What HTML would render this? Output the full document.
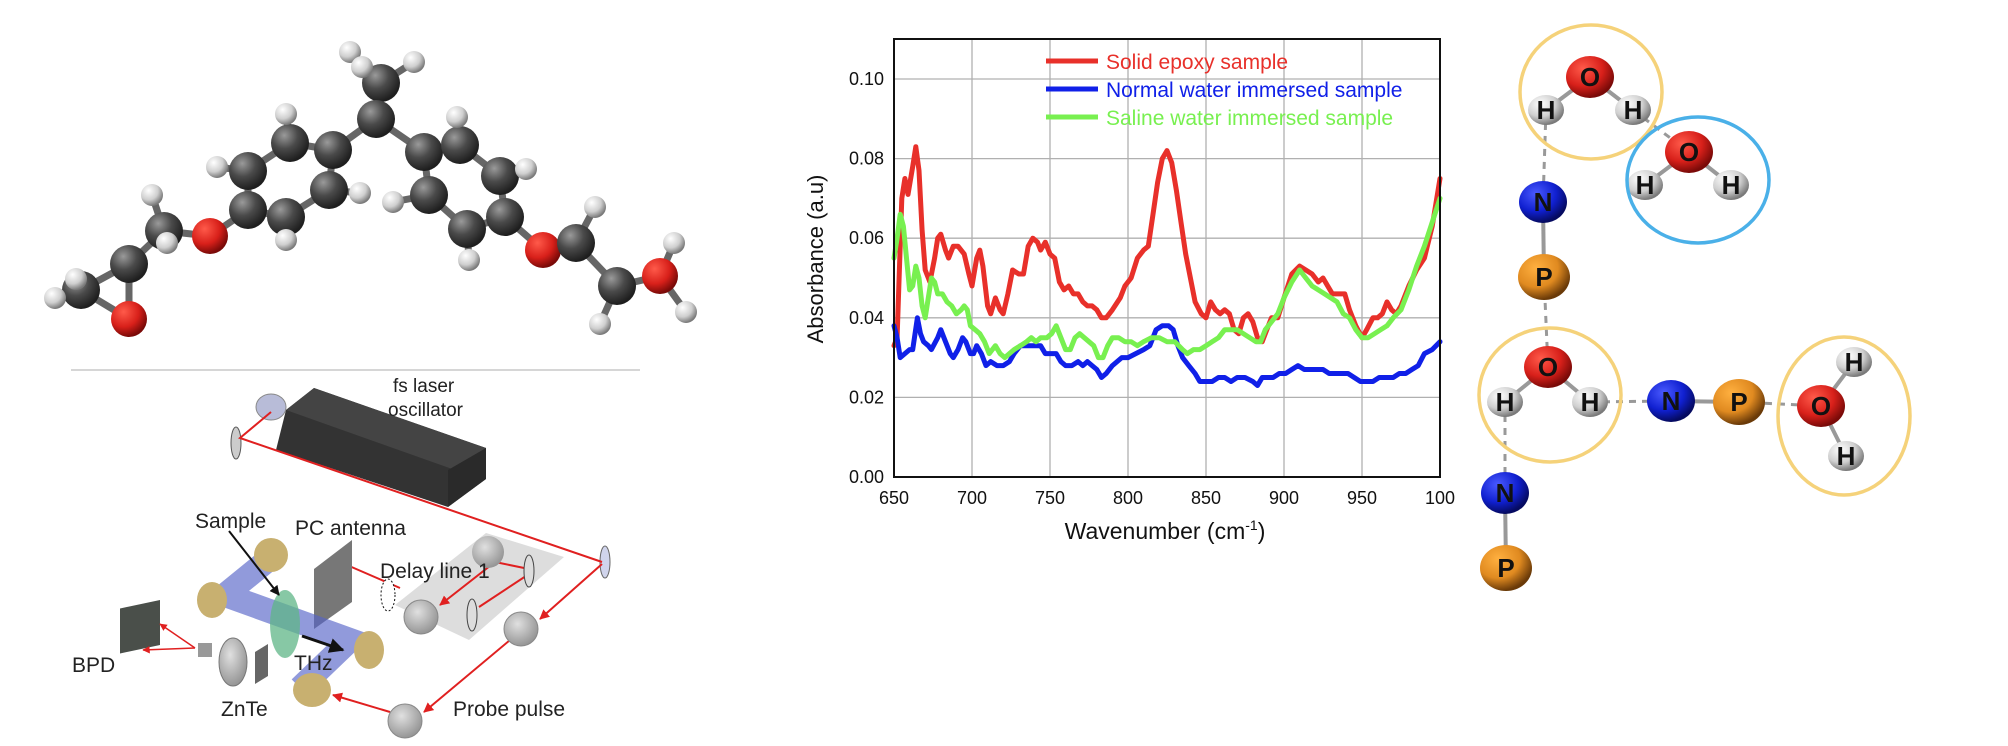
<!DOCTYPE html>
<html><head><meta charset="utf-8"><style>
html,body{margin:0;padding:0;background:#fff;}
svg{display:block;font-family:"Liberation Sans",Arial,sans-serif;}
</style></head><body>
<svg id="root" width="2008" height="746" viewBox="0 0 2008 746" xmlns="http://www.w3.org/2000/svg">
<defs>
<radialGradient id="gC" cx="35%" cy="30%" r="70%"><stop offset="0" stop-color="#9a9a9a"/><stop offset="0.5" stop-color="#4a4a4a"/><stop offset="1" stop-color="#1e1e1e"/></radialGradient>
<radialGradient id="gH" cx="35%" cy="30%" r="70%"><stop offset="0" stop-color="#ffffff"/><stop offset="0.6" stop-color="#cfcfcf"/><stop offset="1" stop-color="#7a7a7a"/></radialGradient>
<radialGradient id="gO" cx="35%" cy="30%" r="70%"><stop offset="0" stop-color="#ff5a4a"/><stop offset="0.6" stop-color="#d8201a"/><stop offset="1" stop-color="#7a0a08"/></radialGradient>
<radialGradient id="gN" cx="35%" cy="30%" r="70%"><stop offset="0" stop-color="#4a5aff"/><stop offset="0.6" stop-color="#1020d0"/><stop offset="1" stop-color="#050a60"/></radialGradient>
<radialGradient id="gP" cx="35%" cy="30%" r="70%"><stop offset="0" stop-color="#ffb040"/><stop offset="0.6" stop-color="#e08a20"/><stop offset="1" stop-color="#6a3a08"/></radialGradient>
<radialGradient id="gM" cx="40%" cy="35%" r="70%"><stop offset="0" stop-color="#e0e0e0"/><stop offset="1" stop-color="#909090"/></radialGradient>
<marker id="arr" viewBox="0 0 10 10" refX="9" refY="5" markerWidth="5" markerHeight="5" orient="auto"><path d="M0,0L10,5L0,10z" fill="#e02020"/></marker>
<marker id="arrk" viewBox="0 0 10 10" refX="9" refY="5" markerWidth="5" markerHeight="5" orient="auto"><path d="M0,0L10,5L0,10z" fill="#111"/></marker>
</defs>

<g id="mol"></g>
<line x1="71" y1="370" x2="640" y2="370" stroke="#c8c8c8" stroke-width="1.5"/>

<g>
  <polygon points="395,605 486,533 564,557 469,640" fill="#d4d4d4" opacity="0.8"/>
  <polygon points="286,410 314,388 486,448 486,479 448,507 276,450" fill="#333"/>
  <polygon points="286,410 314,388 486,448 455,470" fill="#444"/>
  <polygon points="448,470 486,448 486,479 448,507" fill="#2a2a2a"/>
  <ellipse cx="271" cy="407" rx="15" ry="13" fill="#b8bcd8" stroke="#888"/>
  <ellipse cx="236" cy="443" rx="5" ry="16" fill="#ccc" stroke="#555"/>
  <ellipse cx="605" cy="562" rx="5" ry="16" fill="#d0d4ec" stroke="#666"/>
  <polyline points="271,412 240,438 602,562" fill="none" stroke="#e02020" stroke-width="2"/>
  <line x1="602" y1="564" x2="540" y2="619" stroke="#e02020" stroke-width="2" marker-end="url(#arr)"/>
  <line x1="522" y1="630" x2="424" y2="712" stroke="#e02020" stroke-width="2" marker-end="url(#arr)"/>
  <line x1="390" y1="712" x2="333" y2="695" stroke="#e02020" stroke-width="2" marker-end="url(#arr)"/>
  <polyline points="529,569 495,562 440,605" fill="none" stroke="#e02020" stroke-width="2" marker-end="url(#arr)"/>
  <line x1="479" y1="607" x2="529" y2="574" stroke="#e02020" stroke-width="2"/>
  <line x1="400" y1="588" x2="340" y2="562" stroke="#e02020" stroke-width="2" marker-end="url(#arr)"/>
  <circle cx="488" cy="552" r="16" fill="url(#gM)"/>
  <circle cx="421" cy="617" r="17" fill="url(#gM)" stroke="#888"/>
  <circle cx="521" cy="629" r="17" fill="url(#gM)" stroke="#888"/>
  <circle cx="405" cy="721" r="17" fill="url(#gM)" stroke="#888"/>
  <ellipse cx="529" cy="571" rx="5" ry="16" fill="#ddd" stroke="#444"/>
  <ellipse cx="472" cy="615" rx="5" ry="16" fill="#ddd" stroke="#444"/>
  <ellipse cx="388" cy="595" rx="7" ry="16" fill="#fff" stroke="#111" stroke-dasharray="2,2"/>
  <polygon points="314,569 352,540 352,602 314,629" fill="#777"/>
  <polyline points="268,560 225,595 350,640 300,688" fill="none" stroke="#5664c8" stroke-width="24" opacity="0.65"/>
  <ellipse cx="285" cy="624" rx="15" ry="34" fill="#5fb587" opacity="0.75"/>
  <ellipse cx="271" cy="555" rx="17" ry="17" fill="#c8b070"/>
  <ellipse cx="212" cy="600" rx="15" ry="18" fill="#c8b070"/>
  <ellipse cx="369" cy="650" rx="15" ry="19" fill="#c8b070"/>
  <ellipse cx="312" cy="690" rx="19" ry="17" fill="#c8b070"/>
  <line x1="229" y1="531" x2="279" y2="595" stroke="#111" stroke-width="2" marker-end="url(#arrk)"/>
  <line x1="302" y1="636" x2="343" y2="650" stroke="#111" stroke-width="3" marker-end="url(#arrk)"/>
  <rect x="120" y="604" width="40" height="45" fill="#4a4f4a" transform="skewY(-12) translate(0,30)"/>
  <polyline points="195,648 143,650" fill="none" stroke="#e02020" stroke-width="1.5" marker-end="url(#arr)"/>
  <line x1="195" y1="648" x2="160" y2="624" stroke="#e02020" stroke-width="1.5" marker-end="url(#arr)"/>
  <rect x="198" y="643" width="14" height="14" fill="#999"/>
  <ellipse cx="233" cy="662" rx="14" ry="24" fill="url(#gM)" stroke="#777"/>
  <polygon points="255,652 268,644 268,676 255,684" fill="#666"/>
  <g font-size="20" fill="#222">
    <text x="393" y="392" font-size="19">fs laser</text>
    <text x="388" y="416" font-size="19">oscillator</text>
    <text x="195" y="528" font-size="21">Sample</text>
    <text x="295" y="535" font-size="21">PC antenna</text>
    <text x="380" y="578" font-size="21">Delay line 1</text>
    <text x="72" y="672" font-size="21">BPD</text>
    <text x="221" y="716" font-size="21">ZnTe</text>
    <text x="294" y="670" font-size="21">THz</text>
    <text x="453" y="716" font-size="21">Probe pulse</text>
  </g>
</g>

<g id="chart">
  <g id="grid"></g>
  <g id="series"></g>
  <rect x="894" y="39" width="546" height="438" fill="none" stroke="#111" stroke-width="2"/>
  <g id="ticks" font-size="18" fill="#111"></g>
  <text x="0" y="0" font-size="22" fill="#111" text-anchor="middle" transform="translate(823,259) rotate(-90)">Absorbance (a.u)</text>
  <text x="1165" y="539" font-size="23" fill="#111" text-anchor="middle">Wavenumber (cm<tspan font-size="14" dy="-9">-1</tspan><tspan dy="9">)</tspan></text>
  <g>
    <g>
      <line x1="1046" y1="61" x2="1098" y2="61" stroke="#e8302a" stroke-width="5"/>
      <text x="1106" y="69" font-size="21" fill="#e8302a">Solid epoxy sample</text>
    </g>
    <g>
      <line x1="1046" y1="89" x2="1098" y2="89" stroke="#1020e8" stroke-width="5"/>
      <text x="1106" y="97" font-size="21" fill="#1020e8">Normal water immersed sample</text>
    </g>
    <g>
      <line x1="1046" y1="117" x2="1098" y2="117" stroke="#78f050" stroke-width="5"/>
      <text x="1106" y="125" font-size="21" fill="#78f050">Saline water immersed sample</text>
    </g>
  </g>
</g>

<g id="rightmol"></g>
</svg>

<script>
const xTicks = [650,700,750,800,850,900,950,1000];
const xTickLabels = ["650","700","750","800","850","900","950","100"];
const yTicks = [0,0.02,0.04,0.06,0.08,0.10];
const yTickLabels = ["0.00","0.02","0.04","0.06","0.08","0.10"];
const redX = [650,652,655,657,659,662,664,666,668,670,673,676,678,680,683,685,688,691,695,698,700,703,705,707,710,712,715,718,720,723,726,730,733,736,739,742,744,747,750,753,756,759,762,765,768,771,774,777,780,783,786,790,795,798,802,806,810,813,816,819,822,825,828,831,834,837,840,843,847,850,853,856,859,862,865,868,871,874,877,880,883,886,889,892,896,900,905,910,914,918,922,925,928,931,935,939,942,946,950,953,957,960,963,966,969,972,975,980,985,990,995,1000];
const redY = [0.033,0.035,0.07,0.075,0.071,0.078,0.083,0.077,0.062,0.052,0.049,0.055,0.06,0.061,0.057,0.055,0.058,0.058,0.056,0.051,0.048,0.055,0.057,0.053,0.043,0.041,0.045,0.042,0.041,0.046,0.052,0.051,0.051,0.058,0.060,0.059,0.057,0.059,0.056,0.055,0.049,0.047,0.048,0.046,0.046,0.044,0.043,0.043,0.042,0.040,0.040,0.042,0.045,0.048,0.050,0.055,0.057,0.058,0.066,0.074,0.080,0.082,0.079,0.072,0.064,0.056,0.050,0.044,0.041,0.040,0.044,0.042,0.041,0.042,0.041,0.037,0.036,0.040,0.041,0.039,0.035,0.034,0.037,0.040,0.040,0.045,0.051,0.053,0.052,0.051,0.049,0.050,0.048,0.046,0.046,0.046,0.042,0.038,0.035,0.037,0.040,0.040,0.041,0.044,0.042,0.041,0.043,0.048,0.052,0.055,0.063,0.075];
const blueX = [650,652,654,657,660,662,665,667,669,672,674,678,680,683,686,688,691,694,696,699,701,703,706,709,712,716,720,724,727,731,736,740,744,747,751,754,757,760,764,768,771,774,777,780,783,786,790,793,796,800,805,810,814,818,822,826,829,832,835,839,843,846,850,854,858,862,866,870,875,880,883,886,889,893,897,901,905,909,913,917,921,925,929,933,937,941,945,949,953,957,961,965,970,974,978,982,986,990,995,1000];
const blueY = [0.038,0.035,0.030,0.031,0.032,0.032,0.040,0.036,0.034,0.033,0.032,0.035,0.037,0.034,0.031,0.030,0.032,0.035,0.034,0.031,0.031,0.033,0.031,0.028,0.029,0.028,0.028,0.029,0.031,0.033,0.033,0.033,0.033,0.031,0.031,0.031,0.029,0.028,0.028,0.029,0.028,0.029,0.028,0.027,0.025,0.026,0.028,0.029,0.030,0.030,0.031,0.032,0.033,0.037,0.038,0.038,0.037,0.033,0.030,0.028,0.026,0.024,0.024,0.024,0.025,0.025,0.024,0.025,0.025,0.024,0.023,0.025,0.025,0.025,0.026,0.026,0.027,0.028,0.027,0.027,0.027,0.027,0.026,0.026,0.026,0.026,0.025,0.024,0.024,0.024,0.025,0.025,0.025,0.026,0.026,0.027,0.028,0.031,0.032,0.034];
const greenX = [650,652,654,656,658,660,662,664,666,668,670,672,674,676,678,681,684,687,690,693,695,697,699,702,705,708,711,713,715,718,721,724,727,731,735,738,741,744,748,751,754,757,760,763,766,769,772,775,778,781,784,787,790,794,798,802,806,810,815,820,825,830,835,838,842,846,850,854,858,862,866,870,874,878,882,885,888,892,896,900,905,910,914,918,922,926,930,934,938,942,946,950,954,958,962,966,970,975,980,985,990,995,1000];
const greenY = [0.055,0.060,0.066,0.063,0.055,0.047,0.048,0.053,0.050,0.043,0.040,0.045,0.050,0.049,0.046,0.046,0.044,0.043,0.041,0.042,0.043,0.042,0.038,0.037,0.036,0.034,0.031,0.032,0.033,0.031,0.030,0.031,0.032,0.033,0.034,0.035,0.034,0.035,0.035,0.036,0.038,0.035,0.032,0.032,0.035,0.036,0.035,0.034,0.033,0.030,0.030,0.033,0.035,0.035,0.034,0.034,0.033,0.034,0.035,0.035,0.034,0.034,0.032,0.031,0.032,0.032,0.033,0.034,0.035,0.037,0.037,0.037,0.036,0.035,0.034,0.034,0.037,0.039,0.041,0.045,0.049,0.052,0.050,0.048,0.047,0.046,0.045,0.044,0.041,0.040,0.037,0.035,0.035,0.036,0.037,0.038,0.040,0.042,0.047,0.053,0.058,0.064,0.070];

const NS = "http://www.w3.org/2000/svg";
const X0=894, X1=1440, Y0=477, Y1=79;
function sx(v){return X0+(v-650)/(1000-650)*(X1-X0);}
function sy(v){return Y0-(v/0.10)*(Y0-Y1);}
function mk(tag, attrs, parent){const e=document.createElementNS(NS,tag);for(const k in attrs)e.setAttribute(k,attrs[k]);parent.appendChild(e);return e;}

const grid=document.getElementById('grid'), ticks=document.getElementById('ticks'), series=document.getElementById('series');
xTicks.forEach((t,i)=>{
  if(i>0&&i<xTicks.length-1){const l=mk('line',{x1:sx(t),x2:sx(t),y1:39,y2:477,stroke:'#b0b0b0','stroke-width':1.3},grid);
  
  }
  const tx=mk('text',{x:sx(t),y:504,'text-anchor':'middle'},ticks);tx.textContent=xTickLabels[i];
  
  
});
yTicks.forEach((t,i)=>{
  if(i>0){const l=mk('line',{x1:894,x2:1440,y1:sy(t),y2:sy(t),stroke:'#b0b0b0','stroke-width':1.3},grid);
  
  }
  const tx=mk('text',{x:884,y:sy(t)+6,'text-anchor':'end'},ticks);tx.textContent=yTickLabels[i];
  
  
});
function drawLine(xs,ys,color,name){
  const d=xs.map((x,i)=>(i?'L':'M')+sx(x).toFixed(1)+','+sy(ys[i]).toFixed(1)).join('');
  const p=mk('path',{d:d,fill:'none',stroke:color,'stroke-width':5,'stroke-linejoin':'round','stroke-linecap':'round'},series);
  
  
}
drawLine(redX,redY,'#e8302a','line-solid-epoxy');
drawLine(blueX,blueY,'#1020e8','line-normal-water');
drawLine(greenX,greenY,'#78f050','line-saline-water');

const mol=document.getElementById('mol');
const atoms={
 cm:[381,83,'C'],cc:[376,119,'C'],
 l1:[290,143,'C'],l2:[333,150,'C'],l3:[329,190,'C'],l4:[286,217,'C'],l5:[248,210,'C'],l6:[248,171,'C'],
 r1:[424,152,'C'],r2:[460,145,'C'],r3:[500,176,'C'],r4:[505,217,'C'],r5:[467,229,'C'],r6:[429,195,'C'],
 ol:[210,236,'O'],c1:[164,231,'C'],c2:[129,264,'C'],c3:[81,290,'C'],oe:[129,319,'O'],
 or:[543,250,'O'],c4:[576,243,'C'],c5:[617,286,'C'],oh:[660,276,'O'],
 h1:[350,52,'H'],h2:[414,62,'H'],h3:[362,67,'H'],h4:[286,114,'H'],h5:[217,167,'H'],h6:[360,193,'H'],h7:[286,240,'H'],
 h8:[152,195,'H'],h9:[167,243,'H'],h10:[55,298,'H'],h11:[76,279,'H'],h12:[457,117,'H'],h13:[526,169,'H'],h14:[393,202,'H'],
 h15:[469,260,'H'],h16:[595,207,'H'],h17:[600,324,'H'],h18:[674,243,'H'],h19:[686,312,'H']
};
const bonds=[['cm','cc'],['cm','h1'],['cm','h2'],['cm','h3'],['cc','l2'],['cc','r1'],['l1','l2'],['l2','l3'],['l3','l4'],['l4','l5'],['l5','l6'],['l6','l1'],
 ['r1','r2'],['r2','r3'],['r3','r4'],['r4','r5'],['r5','r6'],['r6','r1'],['l1','h4'],['l6','h5'],['l3','h6'],['l4','h7'],['l5','ol'],['ol','c1'],['c1','h8'],['c1','h9'],['c1','c2'],['c2','c3'],['c2','oe'],['c3','oe'],['c3','h10'],['c3','h11'],
 ['r2','h12'],['r3','h13'],['r6','h14'],['r5','h15'],['r4','or'],['or','c4'],['c4','h16'],['c4','c5'],['c5','h17'],['c5','oh'],['oh','h18'],['oh','h19']];
bonds.forEach(b=>{const a=atoms[b[0]],c=atoms[b[1]];mk('line',{x1:a[0],y1:a[1],x2:c[0],y2:c[1],stroke:'#666','stroke-width':7},mol);});
Object.keys(atoms).forEach(k=>{const a=atoms[k];const r=a[2]==='C'?19:a[2]==='O'?18:11;
 const c=mk('circle',{cx:a[0],cy:a[1],r:r,fill:a[2]==='C'?'url(#gC)':a[2]==='O'?'url(#gO)':'url(#gH)'},mol);
 
 });

const rm=document.getElementById('rightmol');
const ra={
 o1:[1590,77,'O'],h1a:[1546,110,'H'],h1b:[1633,110,'H'],
 o2:[1689,152,'O'],h2a:[1645,185,'H'],h2b:[1731,185,'H'],
 n1:[1543,202,'N'],p1:[1544,277,'P'],
 o3:[1548,367,'O'],h3a:[1505,402,'H'],h3b:[1590,402,'H'],
 n2:[1671,401,'N'],p2:[1739,402,'P'],o4:[1821,406,'O'],h4a:[1854,362,'H'],h4b:[1846,456,'H'],
 n3:[1505,493,'N'],p3:[1506,568,'P']
};
const rsolid=[['o1','h1a'],['o1','h1b'],['o2','h2a'],['o2','h2b'],['n1','p1'],['o3','h3a'],['o3','h3b'],['n2','p2'],['o4','h4a'],['o4','h4b'],['n3','p3']];
const rdash=[['h1a','n1'],['h1b','o2'],['p1','o3'],['h3b','n2'],['p2','o4'],['h3a','n3']];
rsolid.forEach(b=>{const a=ra[b[0]],c=ra[b[1]];mk('line',{x1:a[0],y1:a[1],x2:c[0],y2:c[1],stroke:'#999','stroke-width':4},rm);});
rdash.forEach(b=>{const a=ra[b[0]],c=ra[b[1]];mk('line',{x1:a[0],y1:a[1],x2:c[0],y2:c[1],stroke:'#999','stroke-width':3,'stroke-dasharray':'7,6'},rm);});
Object.keys(ra).forEach(k=>{const a=ra[k];const t=a[2];const r=t==='H'?16:t==='P'?24:22;
 const g={O:'url(#gO)',H:'url(#gH)',N:'url(#gN)',P:'url(#gP)'}[t];
 const c=mk('ellipse',{cx:a[0],cy:a[1],rx:r+2,ry:r-1,fill:g},rm);
 
 
 const tx=mk('text',{x:a[0],y:a[1]+9,'text-anchor':'middle','font-size':26,'font-weight':'bold',fill:'#111'},rm);tx.textContent=t;
 
 });
const rings=[[1591,92,71,67,'#f5d27a'],[1698,180,71,63,'#4ab0e8'],[1550,395,71,67,'#f5d27a'],[1844,416,66,79,'#f5d27a']];
rings.forEach(r=>{const e=mk('ellipse',{cx:r[0],cy:r[1],rx:r[2],ry:r[3],fill:'none',stroke:r[4],'stroke-width':3.5},rm);
 
 });
</script>
</body></html>
